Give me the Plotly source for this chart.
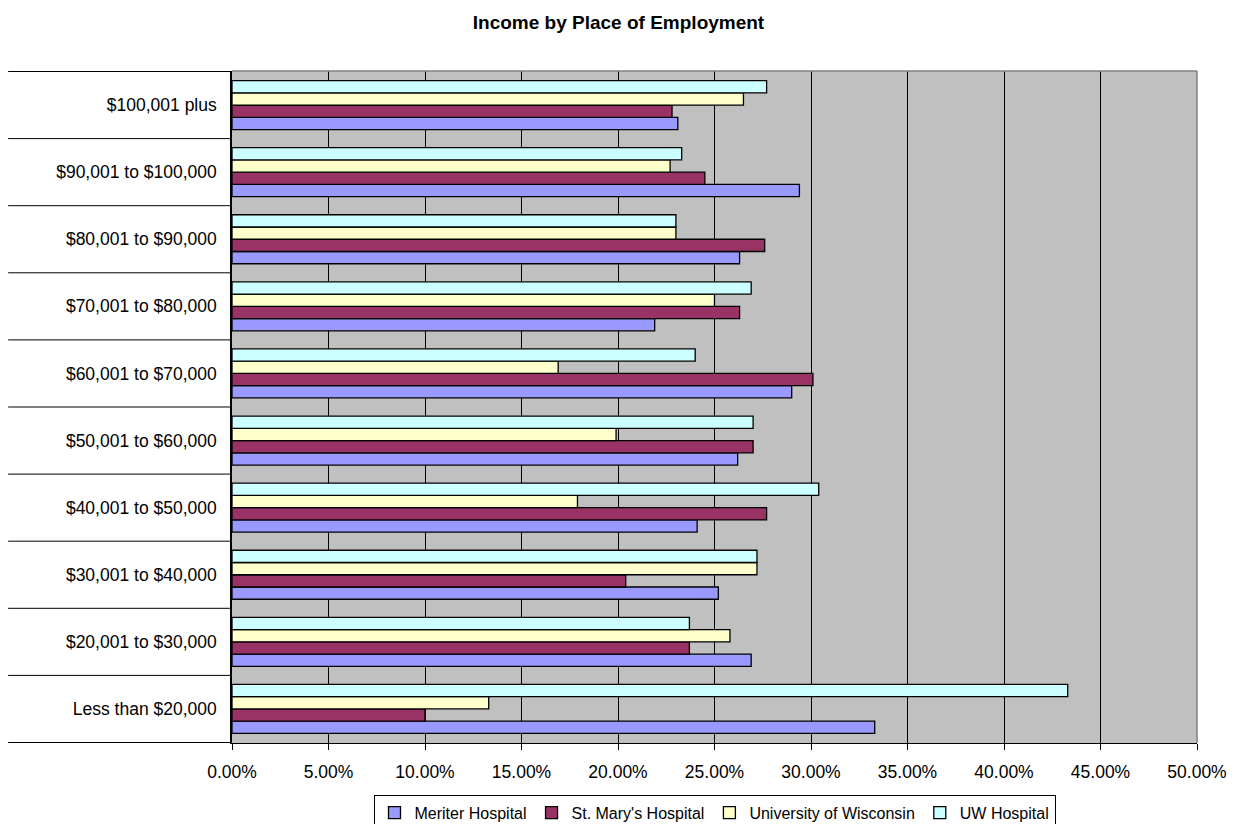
import plotly.graph_objects as go

# Income brackets, bottom to top
brackets = [
    "Less than $20,000",
    "$20,001 to $30,000",
    "$30,001 to $40,000",
    "$40,001 to $50,000",
    "$50,001 to $60,000",
    "$60,001 to $70,000",
    "$70,001 to $80,000",
    "$80,001 to $90,000",
    "$90,001 to $100,000",
    "$100,001 plus",
]

# Share of respondents in each bracket (percent)
meriter = [33.3, 26.9, 25.2, 24.1, 26.2, 29.0, 21.9, 26.3, 29.4, 23.1]
st_marys = [10.0, 23.7, 20.4, 27.7, 27.0, 30.1, 26.3, 27.6, 24.5, 22.8]
uw_madison = [13.3, 25.8, 27.2, 17.9, 19.9, 16.9, 25.0, 23.0, 22.7, 26.5]
uw_hospital = [43.3, 23.7, 27.2, 30.4, 27.0, 24.0, 26.9, 23.0, 23.3, 27.7]

series = [
    ("Meriter Hospital", meriter, "#9999FF"),
    ("St. Mary's Hospital", st_marys, "#993366"),
    ("University of Wisconsin", uw_madison, "#FFFFCC"),
    ("UW Hospital", uw_hospital, "#CCFFFF"),
]

FONT = "Arial, Liberation Sans, sans-serif"

fig = go.Figure()
for name, vals, color in series:
    fig.add_trace(go.Bar(
        y=brackets, x=vals, name=name, orientation="h",
        marker=dict(color=color, line=dict(color="#000000", width=1.3)),
    ))

# Category separators running out to the left of the plot area
shapes = []
for i in range(len(brackets) + 1):
    shapes.append(dict(type="line", xref="paper", yref="y",
                       x0=-0.232, x1=0, y0=i - 0.5, y1=i - 0.5,
                       line=dict(color="#000000", width=1)))
# Grey frame on top and right of the plot area
shapes.append(dict(type="line", xref="paper", yref="paper", x0=0, x1=1, y0=1, y1=1,
                   line=dict(color="#808080", width=1.5)))
shapes.append(dict(type="line", xref="paper", yref="paper", x0=1, x1=1, y0=0, y1=1,
                   line=dict(color="#808080", width=1.5)))

fig.update_layout(
    width=1237, height=824,
    margin=dict(l=232, r=40, t=71, b=81, autoexpand=False),
    paper_bgcolor="#FFFFFF",
    plot_bgcolor="#C0C0C0",
    barmode="group",
    bargap=0.27,
    bargroupgap=0,
    font=dict(family=FONT, size=17, color="#000000"),
    title=dict(text="<b>Income by Place of Employment</b>",
               x=0.5, xanchor="center", y=0.973, yanchor="middle",
               font=dict(family=FONT, size=19, color="#000000")),
    xaxis=dict(range=[0, 50], dtick=5, tick0=0, tickformat=".2f", ticksuffix="%",
               showgrid=True, gridcolor="#000000", gridwidth=1,
               zeroline=False, showline=True, linecolor="#000000", linewidth=1,
               ticks="outside", ticklen=6, tickcolor="#000000",
               ticklabelstandoff=7,
               tickfont=dict(size=17.5), fixedrange=True),
    yaxis=dict(categoryorder="array", categoryarray=brackets,
               showline=True, linecolor="#000000", linewidth=1.5,
               ticks="", ticklabelstandoff=10, showgrid=False,
               tickfont=dict(size=17.5), fixedrange=True),
    legend=dict(orientation="h", x=0.5, xanchor="center", y=-0.077, yanchor="top",
                bgcolor="#FFFFFF", bordercolor="#000000", borderwidth=1,
                font=dict(size=16), traceorder="normal",
                itemwidth=30, tracegroupgap=0),
    shapes=shapes,
    showlegend=True,
)

fig.write_html("out.html")
